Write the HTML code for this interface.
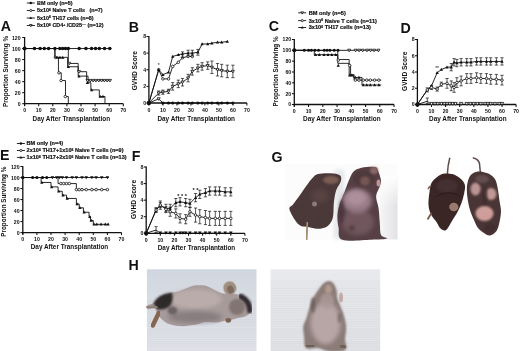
<!DOCTYPE html><html><head><meta charset="utf-8"><style>html,body{margin:0;padding:0;background:#fff;width:520px;height:351px;overflow:hidden}svg{display:block;filter:blur(0.35px)}</style></head><body>
<svg width="520" height="351" viewBox="0 0 520 351" font-family="'Liberation Sans', sans-serif" fill="#111">
<defs><filter id="b1" x="-20%" y="-20%" width="140%" height="140%"><feGaussianBlur stdDeviation="1.2"/></filter><filter id="b2" x="-20%" y="-20%" width="140%" height="140%"><feGaussianBlur stdDeviation="2.2"/></filter><filter id="b05" x="-20%" y="-20%" width="140%" height="140%"><feGaussianBlur stdDeviation="0.6"/></filter></defs>
<rect width="520" height="351" fill="#fff"/>
<text x="0.8" y="30.8" font-size="14.2" font-weight="bold">A</text>
<text x="128.8" y="31.6" font-size="14.2" font-weight="bold">B</text>
<text x="268.8" y="31.2" font-size="14.2" font-weight="bold">C</text>
<text x="400.5" y="32.9" font-size="14.2" font-weight="bold">D</text>
<text x="0.1" y="160.4" font-size="14.2" font-weight="bold">E</text>
<text x="131.8" y="160.9" font-size="14.2" font-weight="bold">F</text>
<text x="271.6" y="161.6" font-size="14.2" font-weight="bold">G</text>
<text x="128.6" y="270.4" font-size="14.2" font-weight="bold">H</text>
<line x1="24.6" y1="37" x2="24.6" y2="105.7" stroke="#111" stroke-width="1.3"/>
<line x1="24.1" y1="103.7" x2="123.3" y2="103.7" stroke="#111" stroke-width="1.3"/>
<line x1="22.2" y1="103.7" x2="24.6" y2="103.7" stroke="#111" stroke-width="1.05"/>
<text x="20.6" y="106.3" font-size="5.2" font-weight="bold" text-anchor="end">0</text>
<line x1="22.2" y1="92.67" x2="24.6" y2="92.67" stroke="#111" stroke-width="1.05"/>
<text x="20.6" y="95.27" font-size="5.2" font-weight="bold" text-anchor="end">20</text>
<line x1="22.2" y1="81.63" x2="24.6" y2="81.63" stroke="#111" stroke-width="1.05"/>
<text x="20.6" y="84.23" font-size="5.2" font-weight="bold" text-anchor="end">40</text>
<line x1="22.2" y1="70.6" x2="24.6" y2="70.6" stroke="#111" stroke-width="1.05"/>
<text x="20.6" y="73.2" font-size="5.2" font-weight="bold" text-anchor="end">60</text>
<line x1="22.2" y1="59.57" x2="24.6" y2="59.57" stroke="#111" stroke-width="1.05"/>
<text x="20.6" y="62.17" font-size="5.2" font-weight="bold" text-anchor="end">80</text>
<line x1="22.2" y1="48.53" x2="24.6" y2="48.53" stroke="#111" stroke-width="1.05"/>
<text x="20.6" y="51.13" font-size="5.2" font-weight="bold" text-anchor="end">100</text>
<line x1="22.2" y1="37.5" x2="24.6" y2="37.5" stroke="#111" stroke-width="1.05"/>
<text x="20.6" y="40.1" font-size="5.2" font-weight="bold" text-anchor="end">120</text>
<line x1="24.6" y1="103.7" x2="24.6" y2="106.2" stroke="#111" stroke-width="1.05"/>
<text x="24.6" y="112.3" font-size="5.2" font-weight="bold" text-anchor="middle">0</text>
<line x1="38.7" y1="103.7" x2="38.7" y2="106.2" stroke="#111" stroke-width="1.05"/>
<text x="38.7" y="112.3" font-size="5.2" font-weight="bold" text-anchor="middle">10</text>
<line x1="52.8" y1="103.7" x2="52.8" y2="106.2" stroke="#111" stroke-width="1.05"/>
<text x="52.8" y="112.3" font-size="5.2" font-weight="bold" text-anchor="middle">20</text>
<line x1="66.9" y1="103.7" x2="66.9" y2="106.2" stroke="#111" stroke-width="1.05"/>
<text x="66.9" y="112.3" font-size="5.2" font-weight="bold" text-anchor="middle">30</text>
<line x1="81" y1="103.7" x2="81" y2="106.2" stroke="#111" stroke-width="1.05"/>
<text x="81" y="112.3" font-size="5.2" font-weight="bold" text-anchor="middle">40</text>
<line x1="95.1" y1="103.7" x2="95.1" y2="106.2" stroke="#111" stroke-width="1.05"/>
<text x="95.1" y="112.3" font-size="5.2" font-weight="bold" text-anchor="middle">50</text>
<line x1="109.2" y1="103.7" x2="109.2" y2="106.2" stroke="#111" stroke-width="1.05"/>
<text x="109.2" y="112.3" font-size="5.2" font-weight="bold" text-anchor="middle">60</text>
<line x1="123.3" y1="103.7" x2="123.3" y2="106.2" stroke="#111" stroke-width="1.05"/>
<text x="123.3" y="112.3" font-size="5.2" font-weight="bold" text-anchor="middle">70</text>
<text x="71.3" y="120.9" font-size="6.4" font-weight="bold" text-anchor="middle">Day After Transplantation</text>
<text transform="translate(7.9,71.4) rotate(-90)" font-size="6.4" font-weight="bold" text-anchor="middle">Proportion Surviving %</text>
<line x1="26.8" y1="3" x2="34.8" y2="3" stroke="#111" stroke-width="0.9"/>
<circle cx="30.8" cy="3" r="1.3" fill="#111"/>
<text x="37" y="4.9" font-size="5.4" font-weight="bold" stroke="#111" stroke-width="0.18">BM only (n=5)</text>
<line x1="26.8" y1="10.5" x2="34.8" y2="10.5" stroke="#111" stroke-width="0.9"/>
<circle cx="30.8" cy="10.5" r="1.1" fill="#fff" stroke="#111" stroke-width="0.8"/>
<text x="37" y="12.4" font-size="5.4" font-weight="bold" stroke="#111" stroke-width="0.18">5x10<tspan font-size="3.4" dy="-1.8">6</tspan><tspan dy="1.8"> </tspan>Naive T cells&#160;&#160;&#160;(n=7)</text>
<line x1="26.8" y1="18" x2="34.8" y2="18" stroke="#111" stroke-width="0.9"/>
<path d="M30.8 16.5L32.23 19.11L29.37 19.11Z" fill="#111"/>
<text x="37" y="19.9" font-size="5.4" font-weight="bold" stroke="#111" stroke-width="0.18">5x10<tspan font-size="3.4" dy="-1.8">6</tspan><tspan dy="1.8"> </tspan>TH17 cells (n=8)</text>
<line x1="26.8" y1="25.5" x2="34.8" y2="25.5" stroke="#111" stroke-width="0.9"/>
<path d="M30.8 26.8L32.1 24.52L29.5 24.52Z" fill="#fff" stroke="#111" stroke-width="0.8"/>
<text x="37" y="27.4" font-size="5.4" font-weight="bold" stroke="#111" stroke-width="0.18">5x10<tspan font-size="3.4" dy="-1.8">6</tspan><tspan dy="1.8"> </tspan>CD4<tspan font-size="3.4" dy="-1.8">+</tspan><tspan dy="1.8"> </tspan>/CD25<tspan font-size="3.4" dy="-1.8">&#8722;&#8722;</tspan><tspan dy="1.8"> </tspan> (n=12)</text>
<path d="M24.6 48.53 L111.31 48.53" fill="none" stroke="#111" stroke-width="0.9"/>
<circle cx="24.6" cy="48.53" r="2" fill="#111"/>
<circle cx="34.47" cy="48.53" r="1.8" fill="#111"/>
<circle cx="40.11" cy="48.53" r="1.8" fill="#111"/>
<circle cx="44.34" cy="48.53" r="1.8" fill="#111"/>
<circle cx="48.57" cy="48.53" r="1.8" fill="#111"/>
<circle cx="54.91" cy="48.53" r="1.8" fill="#111"/>
<circle cx="59.85" cy="48.53" r="1.8" fill="#111"/>
<circle cx="62.67" cy="48.53" r="1.8" fill="#111"/>
<circle cx="65.49" cy="48.53" r="1.8" fill="#111"/>
<circle cx="68.31" cy="48.53" r="1.8" fill="#111"/>
<circle cx="79.17" cy="48.53" r="1.8" fill="#111"/>
<circle cx="85.94" cy="48.53" r="1.8" fill="#111"/>
<circle cx="91.57" cy="48.53" r="1.8" fill="#111"/>
<circle cx="95.52" cy="48.53" r="1.8" fill="#111"/>
<circle cx="99.33" cy="48.53" r="1.8" fill="#111"/>
<circle cx="104.55" cy="48.53" r="1.8" fill="#111"/>
<circle cx="109.76" cy="48.53" r="1.8" fill="#111"/>
<path d="M24.6 48.53 L54.91 48.53 L54.91 57.36 L58.44 57.36 L58.44 72.81 L61.26 72.81 L61.26 80.53 L65.49 80.53 L65.49 96.53 L68.31 96.53 L68.31 103.7" fill="none" stroke="#111" stroke-width="0.9"/>
<circle cx="55.41" cy="57.36" r="1.27" fill="#fff" stroke="#111" stroke-width="0.8"/>
<circle cx="58.94" cy="72.81" r="1.27" fill="#fff" stroke="#111" stroke-width="0.8"/>
<circle cx="61.05" cy="80.53" r="1.27" fill="#fff" stroke="#111" stroke-width="0.8"/>
<circle cx="65.28" cy="96.53" r="1.27" fill="#fff" stroke="#111" stroke-width="0.8"/>
<path d="M24.6 48.53 L54.91 48.53 L54.91 57.36 L67.6 57.36 L67.6 66.74 L78.18 66.74 L78.18 76.12 L88.05 76.12 L88.05 82.74 L90.87 82.74 L90.87 89.91 L99.33 89.91 L99.33 96.53 L104.97 96.53 L104.97 103.7" fill="none" stroke="#111" stroke-width="0.9"/>
<path d="M57.12 55.63L58.77 58.63L55.48 58.63Z" fill="#111"/>
<path d="M59.94 55.63L61.59 58.63L58.29 58.63Z" fill="#111"/>
<path d="M62.76 55.63L64.41 58.63L61.11 58.63Z" fill="#111"/>
<path d="M68.4 65.01L70.05 68.01L66.75 68.01Z" fill="#111"/>
<path d="M78.98 74.39L80.63 77.39L77.33 77.39Z" fill="#111"/>
<path d="M87.44 81.01L89.09 84.01L85.79 84.01Z" fill="#111"/>
<path d="M91.67 88.18L93.32 91.18L90.02 91.18Z" fill="#111"/>
<path d="M100.13 94.8L101.78 97.8L98.48 97.8Z" fill="#111"/>
<path d="M102.95 94.8L104.6 97.8L101.3 97.8Z" fill="#111"/>
<path d="M24.6 48.53 L68.31 48.53 L68.31 63.43 L78.18 63.43 L78.18 71.7 L86.64 71.7 L86.64 80.53 L110.61 80.53 L110.61 80.53" fill="none" stroke="#111" stroke-width="0.9"/>
<path d="M69.11 64.93L70.61 62.3L67.61 62.3Z" fill="#fff" stroke="#111" stroke-width="0.8"/>
<path d="M78.98 73.2L80.48 70.58L77.48 70.58Z" fill="#fff" stroke="#111" stroke-width="0.8"/>
<path d="M87.44 82.03L88.94 79.41L85.94 79.41Z" fill="#fff" stroke="#111" stroke-width="0.8"/>
<path d="M90.26 82.03L91.76 79.41L88.76 79.41Z" fill="#fff" stroke="#111" stroke-width="0.8"/>
<path d="M93.08 82.03L94.58 79.41L91.58 79.41Z" fill="#fff" stroke="#111" stroke-width="0.8"/>
<path d="M95.9 82.03L97.4 79.41L94.4 79.41Z" fill="#fff" stroke="#111" stroke-width="0.8"/>
<path d="M98.72 82.03L100.22 79.41L97.22 79.41Z" fill="#fff" stroke="#111" stroke-width="0.8"/>
<path d="M101.54 82.03L103.04 79.41L100.04 79.41Z" fill="#fff" stroke="#111" stroke-width="0.8"/>
<path d="M104.36 82.03L105.86 79.41L102.86 79.41Z" fill="#fff" stroke="#111" stroke-width="0.8"/>
<path d="M107.18 82.03L108.68 79.41L105.68 79.41Z" fill="#fff" stroke="#111" stroke-width="0.8"/>
<path d="M110 82.03L111.5 79.41L108.5 79.41Z" fill="#fff" stroke="#111" stroke-width="0.8"/>
<line x1="148.9" y1="36" x2="148.9" y2="105" stroke="#111" stroke-width="1.3"/>
<line x1="148.4" y1="103" x2="246.9" y2="103" stroke="#111" stroke-width="1.3"/>
<line x1="146.5" y1="103" x2="148.9" y2="103" stroke="#111" stroke-width="1.05"/>
<text x="146.2" y="104.8" font-size="5.2" font-weight="bold" text-anchor="end">0</text>
<line x1="146.5" y1="86.38" x2="148.9" y2="86.38" stroke="#111" stroke-width="1.05"/>
<text x="146.2" y="88.17" font-size="5.2" font-weight="bold" text-anchor="end">2</text>
<line x1="146.5" y1="69.75" x2="148.9" y2="69.75" stroke="#111" stroke-width="1.05"/>
<text x="146.2" y="71.55" font-size="5.2" font-weight="bold" text-anchor="end">4</text>
<line x1="146.5" y1="53.12" x2="148.9" y2="53.12" stroke="#111" stroke-width="1.05"/>
<text x="146.2" y="54.92" font-size="5.2" font-weight="bold" text-anchor="end">6</text>
<line x1="146.5" y1="36.5" x2="148.9" y2="36.5" stroke="#111" stroke-width="1.05"/>
<text x="146.2" y="38.3" font-size="5.2" font-weight="bold" text-anchor="end">8</text>
<line x1="148.9" y1="103" x2="148.9" y2="105.5" stroke="#111" stroke-width="1.05"/>
<text x="148.9" y="111.6" font-size="5.2" font-weight="bold" text-anchor="middle">0</text>
<line x1="162.9" y1="103" x2="162.9" y2="105.5" stroke="#111" stroke-width="1.05"/>
<text x="162.9" y="111.6" font-size="5.2" font-weight="bold" text-anchor="middle">10</text>
<line x1="176.9" y1="103" x2="176.9" y2="105.5" stroke="#111" stroke-width="1.05"/>
<text x="176.9" y="111.6" font-size="5.2" font-weight="bold" text-anchor="middle">20</text>
<line x1="190.9" y1="103" x2="190.9" y2="105.5" stroke="#111" stroke-width="1.05"/>
<text x="190.9" y="111.6" font-size="5.2" font-weight="bold" text-anchor="middle">30</text>
<line x1="204.9" y1="103" x2="204.9" y2="105.5" stroke="#111" stroke-width="1.05"/>
<text x="204.9" y="111.6" font-size="5.2" font-weight="bold" text-anchor="middle">40</text>
<line x1="218.9" y1="103" x2="218.9" y2="105.5" stroke="#111" stroke-width="1.05"/>
<text x="218.9" y="111.6" font-size="5.2" font-weight="bold" text-anchor="middle">50</text>
<line x1="232.9" y1="103" x2="232.9" y2="105.5" stroke="#111" stroke-width="1.05"/>
<text x="232.9" y="111.6" font-size="5.2" font-weight="bold" text-anchor="middle">60</text>
<line x1="246.9" y1="103" x2="246.9" y2="105.5" stroke="#111" stroke-width="1.05"/>
<text x="246.9" y="111.6" font-size="5.2" font-weight="bold" text-anchor="middle">70</text>
<text x="196.2" y="121" font-size="6.4" font-weight="bold" text-anchor="middle">Day After Transplantation</text>
<text transform="translate(137,70.7) rotate(-90)" font-size="6.6" font-weight="bold" text-anchor="middle">GVHD Score</text>
<path d="M148.9 103 L158.7 98.84 L162.9 103 L232.9 103" fill="none" stroke="#111" stroke-width="0.9"/>
<circle cx="162.9" cy="103" r="1.6" fill="#111"/>
<circle cx="168.5" cy="103" r="1.6" fill="#111"/>
<circle cx="172.7" cy="103" r="1.6" fill="#111"/>
<circle cx="178.3" cy="103" r="1.6" fill="#111"/>
<circle cx="182.5" cy="103" r="1.6" fill="#111"/>
<circle cx="188.1" cy="103" r="1.6" fill="#111"/>
<circle cx="192.3" cy="103" r="1.6" fill="#111"/>
<circle cx="197.9" cy="103" r="1.6" fill="#111"/>
<circle cx="202.1" cy="103" r="1.6" fill="#111"/>
<circle cx="207.7" cy="103" r="1.6" fill="#111"/>
<circle cx="211.9" cy="103" r="1.6" fill="#111"/>
<circle cx="217.5" cy="103" r="1.6" fill="#111"/>
<circle cx="221.7" cy="103" r="1.6" fill="#111"/>
<circle cx="227.3" cy="103" r="1.6" fill="#111"/>
<circle cx="232.9" cy="103" r="1.6" fill="#111"/>
<circle cx="148.9" cy="103" r="2.2" fill="#111"/>
<path d="M158.7 100.34L160.2 97.72L157.2 97.72Z" fill="#fff" stroke="#111" stroke-width="0.8"/>
<path d="M148.9 103 L158.7 69.75 L162.9 78.89 L168.5 78.89 L172.7 66.42 L178.3 62.27 L182.5 57.7 L188.1 56.45 L192.3 56.45" fill="none" stroke="#111" stroke-width="0.9"/>
<circle cx="158.7" cy="69.75" r="1.27" fill="#fff" stroke="#111" stroke-width="0.8"/>
<circle cx="162.9" cy="78.89" r="1.27" fill="#fff" stroke="#111" stroke-width="0.8"/>
<circle cx="168.5" cy="78.89" r="1.27" fill="#fff" stroke="#111" stroke-width="0.8"/>
<circle cx="172.7" cy="66.42" r="1.27" fill="#fff" stroke="#111" stroke-width="0.8"/>
<circle cx="178.3" cy="62.27" r="1.27" fill="#fff" stroke="#111" stroke-width="0.8"/>
<circle cx="182.5" cy="57.7" r="1.27" fill="#fff" stroke="#111" stroke-width="0.8"/>
<circle cx="188.1" cy="56.45" r="1.27" fill="#fff" stroke="#111" stroke-width="0.8"/>
<circle cx="192.3" cy="56.45" r="1.27" fill="#fff" stroke="#111" stroke-width="0.8"/>
<path d="M148.9 103 L158.7 69.75 L162.9 74.74 L168.5 72.24 L172.7 56.45 L178.3 54.79 L182.5 53.96 L188.1 53.12 L192.3 53.12 L197.9 52.29 L202.1 43.98 L207.7 43.98 L211.9 43.15 L217.5 42.32 L221.7 42.32 L227.3 41.49" fill="none" stroke="#111" stroke-width="0.9"/>
<path d="M158.7 68.03L160.35 71.03L157.05 71.03Z" fill="#111"/>
<path d="M162.9 73.01L164.55 76.01L161.25 76.01Z" fill="#111"/>
<path d="M168.5 70.52L170.15 73.52L166.85 73.52Z" fill="#111"/>
<path d="M172.7 54.73L174.35 57.73L171.05 57.73Z" fill="#111"/>
<path d="M178.3 53.06L179.95 56.06L176.65 56.06Z" fill="#111"/>
<path d="M182.5 52.23L184.15 55.23L180.85 55.23Z" fill="#111"/>
<path d="M188.1 51.4L189.75 54.4L186.45 54.4Z" fill="#111"/>
<path d="M192.3 51.4L193.95 54.4L190.65 54.4Z" fill="#111"/>
<path d="M197.9 50.57L199.55 53.57L196.25 53.57Z" fill="#111"/>
<path d="M202.1 42.26L203.75 45.26L200.45 45.26Z" fill="#111"/>
<path d="M207.7 42.26L209.35 45.26L206.05 45.26Z" fill="#111"/>
<path d="M211.9 41.42L213.55 44.42L210.25 44.42Z" fill="#111"/>
<path d="M217.5 40.59L219.15 43.59L215.85 43.59Z" fill="#111"/>
<path d="M221.7 40.59L223.35 43.59L220.05 43.59Z" fill="#111"/>
<path d="M227.3 39.76L228.95 42.76L225.65 42.76Z" fill="#111"/>
<path d="M188.1 50.22V56.03M186.5 50.22H189.7M186.5 56.03H189.7" stroke="#111" stroke-width="0.7" fill="none"/>
<path d="M192.3 50.22V56.03M190.7 50.22H193.9M190.7 56.03H193.9" stroke="#111" stroke-width="0.7" fill="none"/>
<path d="M197.9 49.38V55.2M196.3 49.38H199.5M196.3 55.2H199.5" stroke="#111" stroke-width="0.7" fill="none"/>
<path d="M182.5 51.88V57.7M180.9 51.88H184.1M180.9 57.7H184.1" stroke="#111" stroke-width="0.7" fill="none"/>
<path d="M148.9 103 L158.7 93.03 L162.9 92.19 L168.5 91.36 L172.7 86.38 L178.3 83.88 L182.5 82.22 L188.1 78.06 L192.3 71.41 L197.9 68.09 L202.1 66.42 L207.7 65.59 L211.9 67.26 L217.5 69.75 L221.7 70.58 L227.3 71.41 L232.9 71.41" fill="none" stroke="#111" stroke-width="0.9"/>
<path d="M158.7 90.95V95.1M157.1 90.95H160.3M157.1 95.1H160.3" stroke="#111" stroke-width="0.7" fill="none"/>
<path d="M158.7 94.53L160.2 91.9L157.2 91.9Z" fill="#fff" stroke="#111" stroke-width="0.8"/>
<path d="M162.9 90.12V94.27M161.3 90.12H164.5M161.3 94.27H164.5" stroke="#111" stroke-width="0.7" fill="none"/>
<path d="M162.9 93.69L164.4 91.07L161.4 91.07Z" fill="#fff" stroke="#111" stroke-width="0.8"/>
<path d="M168.5 89.28V93.44M166.9 89.28H170.1M166.9 93.44H170.1" stroke="#111" stroke-width="0.7" fill="none"/>
<path d="M168.5 92.86L170 90.24L167 90.24Z" fill="#fff" stroke="#111" stroke-width="0.8"/>
<path d="M172.7 82.63V90.12M171.1 82.63H174.3M171.1 90.12H174.3" stroke="#111" stroke-width="0.7" fill="none"/>
<path d="M172.7 87.88L174.2 85.25L171.2 85.25Z" fill="#fff" stroke="#111" stroke-width="0.8"/>
<path d="M178.3 80.14V87.62M176.7 80.14H179.9M176.7 87.62H179.9" stroke="#111" stroke-width="0.7" fill="none"/>
<path d="M178.3 85.38L179.8 82.76L176.8 82.76Z" fill="#fff" stroke="#111" stroke-width="0.8"/>
<path d="M182.5 78.48V85.96M180.9 78.48H184.1M180.9 85.96H184.1" stroke="#111" stroke-width="0.7" fill="none"/>
<path d="M182.5 83.72L184 81.09L181 81.09Z" fill="#fff" stroke="#111" stroke-width="0.8"/>
<path d="M188.1 74.32V81.8M186.5 74.32H189.7M186.5 81.8H189.7" stroke="#111" stroke-width="0.7" fill="none"/>
<path d="M188.1 79.56L189.6 76.94L186.6 76.94Z" fill="#fff" stroke="#111" stroke-width="0.8"/>
<path d="M192.3 67.67V75.15M190.7 67.67H193.9M190.7 75.15H193.9" stroke="#111" stroke-width="0.7" fill="none"/>
<path d="M192.3 72.91L193.8 70.29L190.8 70.29Z" fill="#fff" stroke="#111" stroke-width="0.8"/>
<path d="M197.9 64.35V71.83M196.3 64.35H199.5M196.3 71.83H199.5" stroke="#111" stroke-width="0.7" fill="none"/>
<path d="M197.9 69.59L199.4 66.96L196.4 66.96Z" fill="#fff" stroke="#111" stroke-width="0.8"/>
<path d="M202.1 62.68V70.17M200.5 62.68H203.7M200.5 70.17H203.7" stroke="#111" stroke-width="0.7" fill="none"/>
<path d="M202.1 67.92L203.6 65.3L200.6 65.3Z" fill="#fff" stroke="#111" stroke-width="0.8"/>
<path d="M207.7 61.85V69.33M206.1 61.85H209.3M206.1 69.33H209.3" stroke="#111" stroke-width="0.7" fill="none"/>
<path d="M207.7 67.09L209.2 64.47L206.2 64.47Z" fill="#fff" stroke="#111" stroke-width="0.8"/>
<path d="M211.9 61.02V73.49M210.3 61.02H213.5M210.3 73.49H213.5" stroke="#111" stroke-width="0.7" fill="none"/>
<path d="M211.9 68.76L213.4 66.13L210.4 66.13Z" fill="#fff" stroke="#111" stroke-width="0.8"/>
<path d="M217.5 63.52V75.98M215.9 63.52H219.1M215.9 75.98H219.1" stroke="#111" stroke-width="0.7" fill="none"/>
<path d="M217.5 71.25L219 68.62L216 68.62Z" fill="#fff" stroke="#111" stroke-width="0.8"/>
<path d="M221.7 64.35V76.82M220.1 64.35H223.3M220.1 76.82H223.3" stroke="#111" stroke-width="0.7" fill="none"/>
<path d="M221.7 72.08L223.2 69.46L220.2 69.46Z" fill="#fff" stroke="#111" stroke-width="0.8"/>
<path d="M227.3 65.18V77.65M225.7 65.18H228.9M225.7 77.65H228.9" stroke="#111" stroke-width="0.7" fill="none"/>
<path d="M227.3 72.91L228.8 70.29L225.8 70.29Z" fill="#fff" stroke="#111" stroke-width="0.8"/>
<path d="M232.9 65.18V77.65M231.3 65.18H234.5M231.3 77.65H234.5" stroke="#111" stroke-width="0.7" fill="none"/>
<path d="M232.9 72.91L234.4 70.29L231.4 70.29Z" fill="#fff" stroke="#111" stroke-width="0.8"/>
<text x="158.7" y="66.75" font-size="5" text-anchor="middle">*</text>
<line x1="294.3" y1="39" x2="294.3" y2="106.5" stroke="#111" stroke-width="1.3"/>
<line x1="293.8" y1="104.5" x2="394.05" y2="104.5" stroke="#111" stroke-width="1.3"/>
<line x1="291.9" y1="104.5" x2="294.3" y2="104.5" stroke="#111" stroke-width="1.05"/>
<text x="291.2" y="106.4" font-size="5.2" font-weight="bold" text-anchor="end">0</text>
<line x1="291.9" y1="93.67" x2="294.3" y2="93.67" stroke="#111" stroke-width="1.05"/>
<text x="291.2" y="95.57" font-size="5.2" font-weight="bold" text-anchor="end">20</text>
<line x1="291.9" y1="82.83" x2="294.3" y2="82.83" stroke="#111" stroke-width="1.05"/>
<text x="291.2" y="84.73" font-size="5.2" font-weight="bold" text-anchor="end">40</text>
<line x1="291.9" y1="72" x2="294.3" y2="72" stroke="#111" stroke-width="1.05"/>
<text x="291.2" y="73.9" font-size="5.2" font-weight="bold" text-anchor="end">60</text>
<line x1="291.9" y1="61.17" x2="294.3" y2="61.17" stroke="#111" stroke-width="1.05"/>
<text x="291.2" y="63.07" font-size="5.2" font-weight="bold" text-anchor="end">80</text>
<line x1="291.9" y1="50.33" x2="294.3" y2="50.33" stroke="#111" stroke-width="1.05"/>
<text x="291.2" y="52.23" font-size="5.2" font-weight="bold" text-anchor="end">100</text>
<line x1="291.9" y1="39.5" x2="294.3" y2="39.5" stroke="#111" stroke-width="1.05"/>
<text x="291.2" y="41.4" font-size="5.2" font-weight="bold" text-anchor="end">120</text>
<line x1="294.3" y1="104.5" x2="294.3" y2="107" stroke="#111" stroke-width="1.05"/>
<text x="294.3" y="113.1" font-size="5.2" font-weight="bold" text-anchor="middle">0</text>
<line x1="308.55" y1="104.5" x2="308.55" y2="107" stroke="#111" stroke-width="1.05"/>
<text x="308.55" y="113.1" font-size="5.2" font-weight="bold" text-anchor="middle">10</text>
<line x1="322.8" y1="104.5" x2="322.8" y2="107" stroke="#111" stroke-width="1.05"/>
<text x="322.8" y="113.1" font-size="5.2" font-weight="bold" text-anchor="middle">20</text>
<line x1="337.05" y1="104.5" x2="337.05" y2="107" stroke="#111" stroke-width="1.05"/>
<text x="337.05" y="113.1" font-size="5.2" font-weight="bold" text-anchor="middle">30</text>
<line x1="351.3" y1="104.5" x2="351.3" y2="107" stroke="#111" stroke-width="1.05"/>
<text x="351.3" y="113.1" font-size="5.2" font-weight="bold" text-anchor="middle">40</text>
<line x1="365.55" y1="104.5" x2="365.55" y2="107" stroke="#111" stroke-width="1.05"/>
<text x="365.55" y="113.1" font-size="5.2" font-weight="bold" text-anchor="middle">50</text>
<line x1="379.8" y1="104.5" x2="379.8" y2="107" stroke="#111" stroke-width="1.05"/>
<text x="379.8" y="113.1" font-size="5.2" font-weight="bold" text-anchor="middle">60</text>
<line x1="394.05" y1="104.5" x2="394.05" y2="107" stroke="#111" stroke-width="1.05"/>
<text x="394.05" y="113.1" font-size="5.2" font-weight="bold" text-anchor="middle">70</text>
<text x="341.8" y="121" font-size="6.4" font-weight="bold" text-anchor="middle">Day After Transplantation</text>
<text transform="translate(278.2,71.5) rotate(-90)" font-size="6.3" font-weight="bold" text-anchor="middle">Proportion Surviving %</text>
<line x1="298.2" y1="12.8" x2="306.2" y2="12.8" stroke="#111" stroke-width="0.9"/>
<path d="M302.2 14.1L303.5 11.83L300.9 11.83Z" fill="#fff" stroke="#111" stroke-width="0.8"/>
<text x="308.7" y="14.7" font-size="5.65" font-weight="bold" stroke="#111" stroke-width="0.18">BM only (n=5)</text>
<line x1="298.2" y1="20.6" x2="306.2" y2="20.6" stroke="#111" stroke-width="0.9"/>
<circle cx="302.2" cy="20.6" r="1.1" fill="#fff" stroke="#111" stroke-width="0.8"/>
<text x="308.7" y="22.5" font-size="5.65" font-weight="bold" stroke="#111" stroke-width="0.18">3x10<tspan font-size="3.4" dy="-1.8">6</tspan><tspan dy="1.8"> </tspan>Naive T cells (n=11)</text>
<line x1="298.2" y1="27.5" x2="306.2" y2="27.5" stroke="#111" stroke-width="0.9"/>
<path d="M302.2 26L303.63 28.61L300.77 28.61Z" fill="#111"/>
<text x="308.7" y="29.4" font-size="5.65" font-weight="bold" stroke="#111" stroke-width="0.18">3x10<tspan font-size="3.4" dy="-1.8">6</tspan><tspan dy="1.8"> </tspan>TH17 cells (n=13)</text>
<path d="M294.3 50.33 L379.8 50.33" fill="none" stroke="#111" stroke-width="0.9"/>
<path d="M349.16 51.83L350.66 49.21L347.66 49.21Z" fill="#fff" stroke="#111" stroke-width="0.8"/>
<path d="M355.57 51.83L357.07 49.21L354.07 49.21Z" fill="#fff" stroke="#111" stroke-width="0.8"/>
<path d="M359.14 51.83L360.64 49.21L357.64 49.21Z" fill="#fff" stroke="#111" stroke-width="0.8"/>
<path d="M362.7 51.83L364.2 49.21L361.2 49.21Z" fill="#fff" stroke="#111" stroke-width="0.8"/>
<path d="M366.98 51.83L368.48 49.21L365.48 49.21Z" fill="#fff" stroke="#111" stroke-width="0.8"/>
<path d="M370.54 51.83L372.04 49.21L369.04 49.21Z" fill="#fff" stroke="#111" stroke-width="0.8"/>
<path d="M374.1 51.83L375.6 49.21L372.6 49.21Z" fill="#fff" stroke="#111" stroke-width="0.8"/>
<path d="M378.38 51.83L379.88 49.21L376.88 49.21Z" fill="#fff" stroke="#111" stroke-width="0.8"/>
<circle cx="294.3" cy="50.33" r="2" fill="#111"/>
<circle cx="304.28" cy="50.33" r="1.5" fill="#111"/>
<circle cx="308.55" cy="50.33" r="1.5" fill="#111"/>
<circle cx="311.4" cy="50.33" r="1.5" fill="#111"/>
<circle cx="314.96" cy="50.33" r="1.5" fill="#111"/>
<circle cx="318.53" cy="50.33" r="1.5" fill="#111"/>
<circle cx="324.23" cy="50.33" r="1.5" fill="#111"/>
<circle cx="327.07" cy="50.33" r="1.5" fill="#111"/>
<circle cx="329.93" cy="50.33" r="1.5" fill="#111"/>
<circle cx="334.2" cy="50.33" r="1.5" fill="#111"/>
<circle cx="338.05" cy="50.33" r="1.5" fill="#111"/>
<path d="M294.3 50.33 L314.25 50.33 L314.25 54.67 L337.76 54.67 L337.76 63.33 L349.16 63.33 L349.16 75.25 L353.44 75.25 L353.44 77.42 L361.99 77.42 L361.99 85 L381.23 85 L381.23 85" fill="none" stroke="#111" stroke-width="0.9"/>
<path d="M315.46 52.94L317.11 55.94L313.81 55.94Z" fill="#111"/>
<path d="M319.31 52.94L320.96 55.94L317.66 55.94Z" fill="#111"/>
<path d="M324.01 52.94L325.66 55.94L322.36 55.94Z" fill="#111"/>
<path d="M328 52.94L329.65 55.94L326.35 55.94Z" fill="#111"/>
<path d="M331.85 52.94L333.5 55.94L330.2 55.94Z" fill="#111"/>
<path d="M335.7 52.94L337.35 55.94L334.05 55.94Z" fill="#111"/>
<path d="M338.26 63.77L339.91 66.78L336.61 66.78Z" fill="#111"/>
<path d="M349.66 73.53L351.31 76.53L348.01 76.53Z" fill="#111"/>
<path d="M351.8 73.53L353.45 76.53L350.15 76.53Z" fill="#111"/>
<path d="M355.36 75.69L357.01 78.69L353.71 78.69Z" fill="#111"/>
<path d="M358.93 75.69L360.57 78.69L357.28 78.69Z" fill="#111"/>
<path d="M363.2 83.28L364.85 86.28L361.55 86.28Z" fill="#111"/>
<path d="M366.76 83.28L368.41 86.28L365.11 86.28Z" fill="#111"/>
<path d="M370.33 83.28L371.98 86.28L368.68 86.28Z" fill="#111"/>
<path d="M374.6 83.28L376.25 86.28L372.95 86.28Z" fill="#111"/>
<path d="M378.88 83.28L380.52 86.28L377.23 86.28Z" fill="#111"/>
<path d="M294.3 50.33 L337.76 50.33 L337.76 59.54 L349.16 59.54 L349.16 64.96 L350.59 64.96 L350.59 74.71 L354.15 74.71 L354.15 80.12 L381.23 80.12 L381.23 80.12" fill="none" stroke="#111" stroke-width="0.9"/>
<circle cx="338.26" cy="60.08" r="1.27" fill="#fff" stroke="#111" stroke-width="0.8"/>
<circle cx="349.66" cy="65.5" r="1.27" fill="#fff" stroke="#111" stroke-width="0.8"/>
<circle cx="355.36" cy="80.12" r="1.27" fill="#fff" stroke="#111" stroke-width="0.8"/>
<circle cx="358.93" cy="80.12" r="1.27" fill="#fff" stroke="#111" stroke-width="0.8"/>
<circle cx="363.2" cy="80.12" r="1.27" fill="#fff" stroke="#111" stroke-width="0.8"/>
<circle cx="366.76" cy="80.12" r="1.27" fill="#fff" stroke="#111" stroke-width="0.8"/>
<circle cx="370.33" cy="80.12" r="1.27" fill="#fff" stroke="#111" stroke-width="0.8"/>
<circle cx="374.6" cy="80.12" r="1.27" fill="#fff" stroke="#111" stroke-width="0.8"/>
<circle cx="378.88" cy="80.12" r="1.27" fill="#fff" stroke="#111" stroke-width="0.8"/>
<line x1="417.4" y1="39" x2="417.4" y2="106.5" stroke="#111" stroke-width="1.3"/>
<line x1="416.9" y1="104.5" x2="516.1" y2="104.5" stroke="#111" stroke-width="1.3"/>
<line x1="415" y1="104.5" x2="417.4" y2="104.5" stroke="#111" stroke-width="1.05"/>
<text x="414.7" y="106.3" font-size="5.2" font-weight="bold" text-anchor="end">0</text>
<line x1="415" y1="88.25" x2="417.4" y2="88.25" stroke="#111" stroke-width="1.05"/>
<text x="414.7" y="90.05" font-size="5.2" font-weight="bold" text-anchor="end">2</text>
<line x1="415" y1="72" x2="417.4" y2="72" stroke="#111" stroke-width="1.05"/>
<text x="414.7" y="73.8" font-size="5.2" font-weight="bold" text-anchor="end">4</text>
<line x1="415" y1="55.75" x2="417.4" y2="55.75" stroke="#111" stroke-width="1.05"/>
<text x="414.7" y="57.55" font-size="5.2" font-weight="bold" text-anchor="end">6</text>
<line x1="415" y1="39.5" x2="417.4" y2="39.5" stroke="#111" stroke-width="1.05"/>
<text x="414.7" y="41.3" font-size="5.2" font-weight="bold" text-anchor="end">8</text>
<line x1="417.4" y1="104.5" x2="417.4" y2="107" stroke="#111" stroke-width="1.05"/>
<text x="417.4" y="113.1" font-size="5.2" font-weight="bold" text-anchor="middle">0</text>
<line x1="431.5" y1="104.5" x2="431.5" y2="107" stroke="#111" stroke-width="1.05"/>
<text x="431.5" y="113.1" font-size="5.2" font-weight="bold" text-anchor="middle">10</text>
<line x1="445.6" y1="104.5" x2="445.6" y2="107" stroke="#111" stroke-width="1.05"/>
<text x="445.6" y="113.1" font-size="5.2" font-weight="bold" text-anchor="middle">20</text>
<line x1="459.7" y1="104.5" x2="459.7" y2="107" stroke="#111" stroke-width="1.05"/>
<text x="459.7" y="113.1" font-size="5.2" font-weight="bold" text-anchor="middle">30</text>
<line x1="473.8" y1="104.5" x2="473.8" y2="107" stroke="#111" stroke-width="1.05"/>
<text x="473.8" y="113.1" font-size="5.2" font-weight="bold" text-anchor="middle">40</text>
<line x1="487.9" y1="104.5" x2="487.9" y2="107" stroke="#111" stroke-width="1.05"/>
<text x="487.9" y="113.1" font-size="5.2" font-weight="bold" text-anchor="middle">50</text>
<line x1="502" y1="104.5" x2="502" y2="107" stroke="#111" stroke-width="1.05"/>
<text x="502" y="113.1" font-size="5.2" font-weight="bold" text-anchor="middle">60</text>
<line x1="516.1" y1="104.5" x2="516.1" y2="107" stroke="#111" stroke-width="1.05"/>
<text x="516.1" y="113.1" font-size="5.2" font-weight="bold" text-anchor="middle">70</text>
<text x="467.8" y="121" font-size="6.4" font-weight="bold" text-anchor="middle">Day After Transplantation</text>
<text transform="translate(407.2,71.3) rotate(-90)" font-size="6.6" font-weight="bold" text-anchor="middle">GVHD Score</text>
<path d="M417.4 104.5 L427.27 101.25 L431.5 104.5 L502 104.5" fill="none" stroke="#111" stroke-width="0.9"/>
<path d="M431.5 105.4L433.2 102.42L429.8 102.42Z" fill="#fff" stroke="#111" stroke-width="0.8"/>
<path d="M435.02 105.4L436.72 102.42L433.32 102.42Z" fill="#fff" stroke="#111" stroke-width="0.8"/>
<path d="M437.84 105.4L439.54 102.42L436.14 102.42Z" fill="#fff" stroke="#111" stroke-width="0.8"/>
<path d="M441.37 105.4L443.07 102.42L439.67 102.42Z" fill="#fff" stroke="#111" stroke-width="0.8"/>
<path d="M444.19 105.4L445.89 102.42L442.49 102.42Z" fill="#fff" stroke="#111" stroke-width="0.8"/>
<path d="M447.01 105.4L448.71 102.42L445.31 102.42Z" fill="#fff" stroke="#111" stroke-width="0.8"/>
<path d="M449.83 105.4L451.53 102.42L448.13 102.42Z" fill="#fff" stroke="#111" stroke-width="0.8"/>
<path d="M452.65 105.4L454.35 102.42L450.95 102.42Z" fill="#fff" stroke="#111" stroke-width="0.8"/>
<path d="M455.47 105.4L457.17 102.42L453.77 102.42Z" fill="#fff" stroke="#111" stroke-width="0.8"/>
<path d="M461.11 105.4L462.81 102.42L459.41 102.42Z" fill="#fff" stroke="#111" stroke-width="0.8"/>
<path d="M466.75 105.4L468.45 102.42L465.05 102.42Z" fill="#fff" stroke="#111" stroke-width="0.8"/>
<path d="M470.27 105.4L471.97 102.42L468.57 102.42Z" fill="#fff" stroke="#111" stroke-width="0.8"/>
<path d="M473.8 105.4L475.5 102.42L472.1 102.42Z" fill="#fff" stroke="#111" stroke-width="0.8"/>
<path d="M477.32 105.4L479.02 102.42L475.62 102.42Z" fill="#fff" stroke="#111" stroke-width="0.8"/>
<path d="M480.85 105.4L482.55 102.42L479.15 102.42Z" fill="#fff" stroke="#111" stroke-width="0.8"/>
<path d="M485.08 105.4L486.78 102.42L483.38 102.42Z" fill="#fff" stroke="#111" stroke-width="0.8"/>
<path d="M487.9 105.4L489.6 102.42L486.2 102.42Z" fill="#fff" stroke="#111" stroke-width="0.8"/>
<path d="M490.72 105.4L492.42 102.42L489.02 102.42Z" fill="#fff" stroke="#111" stroke-width="0.8"/>
<path d="M494.95 105.4L496.65 102.42L493.25 102.42Z" fill="#fff" stroke="#111" stroke-width="0.8"/>
<path d="M499.18 105.4L500.88 102.42L497.48 102.42Z" fill="#fff" stroke="#111" stroke-width="0.8"/>
<path d="M502 105.4L503.7 102.42L500.3 102.42Z" fill="#fff" stroke="#111" stroke-width="0.8"/>
<circle cx="417.4" cy="104.5" r="2.2" fill="#111"/>
<path d="M427.27 98V103.69M425.67 98H428.87M425.67 103.69H428.87" stroke="#111" stroke-width="0.7" fill="none"/>
<path d="M417.4 104.5 L427.27 89.88 L431.5 85.81 L437.14 72.81 L441.37 69.56 L447.01 67.12 L451.24 67.12 L454.06 62.25 L456.88 63.06 L461.11 62.25 L466.75 62.25 L470.98 62.25 L476.62 61.44 L480.85 61.44 L486.49 61.44 L490.72 61.44 L496.36 61.44 L502 61.44" fill="none" stroke="#111" stroke-width="0.9"/>
<path d="M427.27 88.15L428.92 91.15L425.62 91.15Z" fill="#111"/>
<path d="M431.5 84.09L433.15 87.09L429.85 87.09Z" fill="#111"/>
<path d="M437.14 71.09L438.79 74.09L435.49 74.09Z" fill="#111"/>
<path d="M441.37 67.84L443.02 70.84L439.72 70.84Z" fill="#111"/>
<path d="M447.01 65.4L448.66 68.4L445.36 68.4Z" fill="#111"/>
<path d="M451.24 63.47V70.78M449.64 63.47H452.84M449.64 70.78H452.84" stroke="#111" stroke-width="0.7" fill="none"/>
<path d="M451.24 65.4L452.89 68.4L449.59 68.4Z" fill="#111"/>
<path d="M454.06 58.59V65.91M452.46 58.59H455.66M452.46 65.91H455.66" stroke="#111" stroke-width="0.7" fill="none"/>
<path d="M454.06 60.52L455.71 63.52L452.41 63.52Z" fill="#111"/>
<path d="M456.88 59.41V66.72M455.28 59.41H458.48M455.28 66.72H458.48" stroke="#111" stroke-width="0.7" fill="none"/>
<path d="M456.88 61.34L458.53 64.34L455.23 64.34Z" fill="#111"/>
<path d="M461.11 58.59V65.91M459.51 58.59H462.71M459.51 65.91H462.71" stroke="#111" stroke-width="0.7" fill="none"/>
<path d="M461.11 60.52L462.76 63.52L459.46 63.52Z" fill="#111"/>
<path d="M466.75 58.59V65.91M465.15 58.59H468.35M465.15 65.91H468.35" stroke="#111" stroke-width="0.7" fill="none"/>
<path d="M466.75 60.52L468.4 63.52L465.1 63.52Z" fill="#111"/>
<path d="M470.98 58.59V65.91M469.38 58.59H472.58M469.38 65.91H472.58" stroke="#111" stroke-width="0.7" fill="none"/>
<path d="M470.98 60.52L472.63 63.52L469.33 63.52Z" fill="#111"/>
<path d="M476.62 57.78V65.09M475.02 57.78H478.22M475.02 65.09H478.22" stroke="#111" stroke-width="0.7" fill="none"/>
<path d="M476.62 59.71L478.27 62.71L474.97 62.71Z" fill="#111"/>
<path d="M480.85 57.78V65.09M479.25 57.78H482.45M479.25 65.09H482.45" stroke="#111" stroke-width="0.7" fill="none"/>
<path d="M480.85 59.71L482.5 62.71L479.2 62.71Z" fill="#111"/>
<path d="M486.49 57.78V65.09M484.89 57.78H488.09M484.89 65.09H488.09" stroke="#111" stroke-width="0.7" fill="none"/>
<path d="M486.49 59.71L488.14 62.71L484.84 62.71Z" fill="#111"/>
<path d="M490.72 57.78V65.09M489.12 57.78H492.32M489.12 65.09H492.32" stroke="#111" stroke-width="0.7" fill="none"/>
<path d="M490.72 59.71L492.37 62.71L489.07 62.71Z" fill="#111"/>
<path d="M496.36 57.78V65.09M494.76 57.78H497.96M494.76 65.09H497.96" stroke="#111" stroke-width="0.7" fill="none"/>
<path d="M496.36 59.71L498.01 62.71L494.71 62.71Z" fill="#111"/>
<path d="M502 57.78V65.09M500.4 57.78H503.6M500.4 65.09H503.6" stroke="#111" stroke-width="0.7" fill="none"/>
<path d="M502 59.71L503.65 62.71L500.35 62.71Z" fill="#111"/>
<path d="M417.4 104.5 L427.27 89.88 L431.5 87.44 L437.14 89.06 L441.37 84.19 L447.01 83.38 L451.24 85.81 L454.06 87.44 L456.88 82.56 L461.11 80.94 L466.75 78.5 L470.98 78.5 L476.62 77.69 L480.85 78.5 L486.49 78.5 L490.72 79.31 L496.36 79.31 L502 80.12" fill="none" stroke="#111" stroke-width="0.9"/>
<path d="M427.27 87.84V91.91M425.67 87.84H428.87M425.67 91.91H428.87" stroke="#111" stroke-width="0.7" fill="none"/>
<circle cx="427.27" cy="89.88" r="1.27" fill="#fff" stroke="#111" stroke-width="0.8"/>
<path d="M431.5 85.41V89.47M429.9 85.41H433.1M429.9 89.47H433.1" stroke="#111" stroke-width="0.7" fill="none"/>
<circle cx="431.5" cy="87.44" r="1.27" fill="#fff" stroke="#111" stroke-width="0.8"/>
<path d="M437.14 87.03V91.09M435.54 87.03H438.74M435.54 91.09H438.74" stroke="#111" stroke-width="0.7" fill="none"/>
<circle cx="437.14" cy="89.06" r="1.27" fill="#fff" stroke="#111" stroke-width="0.8"/>
<path d="M441.37 82.16V86.22M439.77 82.16H442.97M439.77 86.22H442.97" stroke="#111" stroke-width="0.7" fill="none"/>
<circle cx="441.37" cy="84.19" r="1.27" fill="#fff" stroke="#111" stroke-width="0.8"/>
<path d="M447.01 78.5V88.25M445.41 78.5H448.61M445.41 88.25H448.61" stroke="#111" stroke-width="0.7" fill="none"/>
<circle cx="447.01" cy="83.38" r="1.27" fill="#fff" stroke="#111" stroke-width="0.8"/>
<path d="M451.24 80.94V90.69M449.64 80.94H452.84M449.64 90.69H452.84" stroke="#111" stroke-width="0.7" fill="none"/>
<circle cx="451.24" cy="85.81" r="1.27" fill="#fff" stroke="#111" stroke-width="0.8"/>
<path d="M454.06 82.56V92.31M452.46 82.56H455.66M452.46 92.31H455.66" stroke="#111" stroke-width="0.7" fill="none"/>
<circle cx="454.06" cy="87.44" r="1.27" fill="#fff" stroke="#111" stroke-width="0.8"/>
<path d="M456.88 77.69V87.44M455.28 77.69H458.48M455.28 87.44H458.48" stroke="#111" stroke-width="0.7" fill="none"/>
<circle cx="456.88" cy="82.56" r="1.27" fill="#fff" stroke="#111" stroke-width="0.8"/>
<path d="M461.11 76.06V85.81M459.51 76.06H462.71M459.51 85.81H462.71" stroke="#111" stroke-width="0.7" fill="none"/>
<circle cx="461.11" cy="80.94" r="1.27" fill="#fff" stroke="#111" stroke-width="0.8"/>
<path d="M466.75 73.62V83.38M465.15 73.62H468.35M465.15 83.38H468.35" stroke="#111" stroke-width="0.7" fill="none"/>
<circle cx="466.75" cy="78.5" r="1.27" fill="#fff" stroke="#111" stroke-width="0.8"/>
<path d="M470.98 73.62V83.38M469.38 73.62H472.58M469.38 83.38H472.58" stroke="#111" stroke-width="0.7" fill="none"/>
<circle cx="470.98" cy="78.5" r="1.27" fill="#fff" stroke="#111" stroke-width="0.8"/>
<path d="M476.62 72.81V82.56M475.02 72.81H478.22M475.02 82.56H478.22" stroke="#111" stroke-width="0.7" fill="none"/>
<circle cx="476.62" cy="77.69" r="1.27" fill="#fff" stroke="#111" stroke-width="0.8"/>
<path d="M480.85 73.62V83.38M479.25 73.62H482.45M479.25 83.38H482.45" stroke="#111" stroke-width="0.7" fill="none"/>
<circle cx="480.85" cy="78.5" r="1.27" fill="#fff" stroke="#111" stroke-width="0.8"/>
<path d="M486.49 73.62V83.38M484.89 73.62H488.09M484.89 83.38H488.09" stroke="#111" stroke-width="0.7" fill="none"/>
<circle cx="486.49" cy="78.5" r="1.27" fill="#fff" stroke="#111" stroke-width="0.8"/>
<path d="M490.72 74.44V84.19M489.12 74.44H492.32M489.12 84.19H492.32" stroke="#111" stroke-width="0.7" fill="none"/>
<circle cx="490.72" cy="79.31" r="1.27" fill="#fff" stroke="#111" stroke-width="0.8"/>
<path d="M496.36 74.44V84.19M494.76 74.44H497.96M494.76 84.19H497.96" stroke="#111" stroke-width="0.7" fill="none"/>
<circle cx="496.36" cy="79.31" r="1.27" fill="#fff" stroke="#111" stroke-width="0.8"/>
<path d="M502 75.25V85M500.4 75.25H503.6M500.4 85H503.6" stroke="#111" stroke-width="0.7" fill="none"/>
<circle cx="502" cy="80.12" r="1.27" fill="#fff" stroke="#111" stroke-width="0.8"/>
<text x="437.14" y="70.31" font-size="5" text-anchor="middle">**</text>
<line x1="22.8" y1="166" x2="22.8" y2="234.6" stroke="#111" stroke-width="1.3"/>
<line x1="22.3" y1="232.6" x2="121.5" y2="232.6" stroke="#111" stroke-width="1.3"/>
<line x1="20.4" y1="232.6" x2="22.8" y2="232.6" stroke="#111" stroke-width="1.05"/>
<text x="19.6" y="234.8" font-size="5.2" font-weight="bold" text-anchor="end">0</text>
<line x1="20.4" y1="221.58" x2="22.8" y2="221.58" stroke="#111" stroke-width="1.05"/>
<text x="19.6" y="223.78" font-size="5.2" font-weight="bold" text-anchor="end">20</text>
<line x1="20.4" y1="210.57" x2="22.8" y2="210.57" stroke="#111" stroke-width="1.05"/>
<text x="19.6" y="212.77" font-size="5.2" font-weight="bold" text-anchor="end">40</text>
<line x1="20.4" y1="199.55" x2="22.8" y2="199.55" stroke="#111" stroke-width="1.05"/>
<text x="19.6" y="201.75" font-size="5.2" font-weight="bold" text-anchor="end">60</text>
<line x1="20.4" y1="188.53" x2="22.8" y2="188.53" stroke="#111" stroke-width="1.05"/>
<text x="19.6" y="190.73" font-size="5.2" font-weight="bold" text-anchor="end">80</text>
<line x1="20.4" y1="177.52" x2="22.8" y2="177.52" stroke="#111" stroke-width="1.05"/>
<text x="19.6" y="179.72" font-size="5.2" font-weight="bold" text-anchor="end">100</text>
<line x1="20.4" y1="166.5" x2="22.8" y2="166.5" stroke="#111" stroke-width="1.05"/>
<text x="19.6" y="168.7" font-size="5.2" font-weight="bold" text-anchor="end">120</text>
<line x1="22.8" y1="232.6" x2="22.8" y2="235.1" stroke="#111" stroke-width="1.05"/>
<text x="22.8" y="241.2" font-size="5.2" font-weight="bold" text-anchor="middle">0</text>
<line x1="36.9" y1="232.6" x2="36.9" y2="235.1" stroke="#111" stroke-width="1.05"/>
<text x="36.9" y="241.2" font-size="5.2" font-weight="bold" text-anchor="middle">10</text>
<line x1="51" y1="232.6" x2="51" y2="235.1" stroke="#111" stroke-width="1.05"/>
<text x="51" y="241.2" font-size="5.2" font-weight="bold" text-anchor="middle">20</text>
<line x1="65.1" y1="232.6" x2="65.1" y2="235.1" stroke="#111" stroke-width="1.05"/>
<text x="65.1" y="241.2" font-size="5.2" font-weight="bold" text-anchor="middle">30</text>
<line x1="79.2" y1="232.6" x2="79.2" y2="235.1" stroke="#111" stroke-width="1.05"/>
<text x="79.2" y="241.2" font-size="5.2" font-weight="bold" text-anchor="middle">40</text>
<line x1="93.3" y1="232.6" x2="93.3" y2="235.1" stroke="#111" stroke-width="1.05"/>
<text x="93.3" y="241.2" font-size="5.2" font-weight="bold" text-anchor="middle">50</text>
<line x1="107.4" y1="232.6" x2="107.4" y2="235.1" stroke="#111" stroke-width="1.05"/>
<text x="107.4" y="241.2" font-size="5.2" font-weight="bold" text-anchor="middle">60</text>
<line x1="121.5" y1="232.6" x2="121.5" y2="235.1" stroke="#111" stroke-width="1.05"/>
<text x="121.5" y="241.2" font-size="5.2" font-weight="bold" text-anchor="middle">70</text>
<text x="69.5" y="249.1" font-size="6.4" font-weight="bold" text-anchor="middle">Day After Transplantation</text>
<text transform="translate(6.3,201.7) rotate(-90)" font-size="6.3" font-weight="bold" text-anchor="middle">Proportion Surviving %</text>
<line x1="16.9" y1="143.5" x2="24.9" y2="143.5" stroke="#111" stroke-width="0.9"/>
<circle cx="20.9" cy="143.5" r="1.3" fill="#111"/>
<text x="26.6" y="145.4" font-size="5.55" font-weight="bold" stroke="#111" stroke-width="0.18">BM only (n=4)</text>
<line x1="16.9" y1="150.5" x2="24.9" y2="150.5" stroke="#111" stroke-width="0.9"/>
<circle cx="20.9" cy="150.5" r="1.1" fill="#fff" stroke="#111" stroke-width="0.8"/>
<text x="26.6" y="152.4" font-size="5.55" font-weight="bold" stroke="#111" stroke-width="0.18">2x10<tspan font-size="3.4" dy="-1.8">6</tspan><tspan dy="1.8"> </tspan>TH17+1x10<tspan font-size="3.4" dy="-1.8">6</tspan><tspan dy="1.8"> </tspan>Naive T cells (n=9)</text>
<line x1="16.9" y1="157.4" x2="24.9" y2="157.4" stroke="#111" stroke-width="0.9"/>
<path d="M20.9 155.91L22.33 158.5L19.47 158.5Z" fill="#111"/>
<text x="26.6" y="159.3" font-size="5.55" font-weight="bold" stroke="#111" stroke-width="0.18">1x10<tspan font-size="3.4" dy="-1.8">6</tspan><tspan dy="1.8"> </tspan>TH17+2x10<tspan font-size="3.4" dy="-1.8">6</tspan><tspan dy="1.8"> </tspan>Naive T cells (n=13)</text>
<path d="M22.8 177.52 L108.81 177.52" fill="none" stroke="#111" stroke-width="0.9"/>
<circle cx="22.8" cy="177.52" r="1.6" fill="#111"/>
<circle cx="32.67" cy="177.52" r="1.6" fill="#111"/>
<circle cx="36.9" cy="177.52" r="1.6" fill="#111"/>
<circle cx="42.54" cy="177.52" r="1.6" fill="#111"/>
<circle cx="46.77" cy="177.52" r="1.6" fill="#111"/>
<path d="M52.41 179.36L54.17 176.16L50.65 176.16Z" fill="#111"/>
<path d="M56.64 179.36L58.4 176.16L54.88 176.16Z" fill="#111"/>
<path d="M59.46 179.36L61.22 176.16L57.7 176.16Z" fill="#111"/>
<path d="M62.28 179.36L64.04 176.16L60.52 176.16Z" fill="#111"/>
<path d="M66.51 179.36L68.27 176.16L64.75 176.16Z" fill="#111"/>
<path d="M72.15 179.36L73.91 176.16L70.39 176.16Z" fill="#111"/>
<path d="M76.38 179.36L78.14 176.16L74.62 176.16Z" fill="#111"/>
<path d="M82.02 179.36L83.78 176.16L80.26 176.16Z" fill="#111"/>
<path d="M86.25 179.36L88.01 176.16L84.49 176.16Z" fill="#111"/>
<path d="M91.89 179.36L93.65 176.16L90.13 176.16Z" fill="#111"/>
<path d="M96.12 179.36L97.88 176.16L94.36 176.16Z" fill="#111"/>
<path d="M101.76 179.36L103.52 176.16L100 176.16Z" fill="#111"/>
<path d="M107.4 179.36L109.16 176.16L105.64 176.16Z" fill="#111"/>
<circle cx="22.8" cy="177.52" r="1.6" fill="#111"/>
<path d="M22.8 177.52 L58.05 177.52 L58.05 183.58 L76.38 183.58 L76.38 189.63 L108.81 189.63 L108.81 189.63" fill="none" stroke="#111" stroke-width="0.9"/>
<circle cx="60.87" cy="183.58" r="1.27" fill="#fff" stroke="#111" stroke-width="0.8"/>
<circle cx="63.69" cy="183.58" r="1.27" fill="#fff" stroke="#111" stroke-width="0.8"/>
<circle cx="66.51" cy="183.58" r="1.27" fill="#fff" stroke="#111" stroke-width="0.8"/>
<circle cx="69.33" cy="183.58" r="1.27" fill="#fff" stroke="#111" stroke-width="0.8"/>
<circle cx="76.38" cy="189.63" r="1.27" fill="#fff" stroke="#111" stroke-width="0.8"/>
<circle cx="79.2" cy="189.63" r="1.27" fill="#fff" stroke="#111" stroke-width="0.8"/>
<circle cx="82.02" cy="189.63" r="1.27" fill="#fff" stroke="#111" stroke-width="0.8"/>
<circle cx="86.25" cy="189.63" r="1.27" fill="#fff" stroke="#111" stroke-width="0.8"/>
<circle cx="91.89" cy="189.63" r="1.27" fill="#fff" stroke="#111" stroke-width="0.8"/>
<circle cx="96.12" cy="189.63" r="1.27" fill="#fff" stroke="#111" stroke-width="0.8"/>
<circle cx="101.76" cy="189.63" r="1.27" fill="#fff" stroke="#111" stroke-width="0.8"/>
<circle cx="107.4" cy="189.63" r="1.27" fill="#fff" stroke="#111" stroke-width="0.8"/>
<path d="M22.8 177.52 L41.13 177.52 L41.13 182.47 L51 182.47 L51 186.88 L58.05 186.88 L58.05 191.29 L62.28 191.29 L62.28 195.14 L66.51 195.14 L66.51 198.45 L76.38 198.45 L76.38 203.96 L79.2 203.96 L79.2 207.81 L83.43 207.81 L83.43 212.22 L89.07 212.22 L89.07 216.63 L90.48 216.63 L90.48 220.48 L93.3 220.48 L93.3 224.34 L108.81 224.34 L108.81 224.34" fill="none" stroke="#111" stroke-width="0.9"/>
<path d="M41.83 180.75L43.48 183.75L40.18 183.75Z" fill="#111"/>
<path d="M51.7 185.16L53.35 188.16L50.05 188.16Z" fill="#111"/>
<path d="M58.75 189.56L60.4 192.56L57.1 192.56Z" fill="#111"/>
<path d="M62.98 193.42L64.63 196.42L61.33 196.42Z" fill="#111"/>
<path d="M67.21 196.72L68.86 199.72L65.56 199.72Z" fill="#111"/>
<path d="M77.08 202.23L78.73 205.23L75.43 205.23Z" fill="#111"/>
<path d="M79.9 206.09L81.55 209.09L78.25 209.09Z" fill="#111"/>
<path d="M84.13 210.49L85.78 213.49L82.48 213.49Z" fill="#111"/>
<path d="M89.77 214.9L91.42 217.9L88.12 217.9Z" fill="#111"/>
<path d="M91.18 218.76L92.83 221.76L89.53 221.76Z" fill="#111"/>
<path d="M94 222.61L95.65 225.61L92.35 225.61Z" fill="#111"/>
<path d="M96.82 222.61L98.47 225.61L95.17 225.61Z" fill="#111"/>
<path d="M101.05 222.61L102.7 225.61L99.4 225.61Z" fill="#111"/>
<path d="M105.28 222.61L106.93 225.61L103.63 225.61Z" fill="#111"/>
<path d="M108.1 222.61L109.75 225.61L106.45 225.61Z" fill="#111"/>
<line x1="146.2" y1="166.5" x2="146.2" y2="235.3" stroke="#111" stroke-width="1.3"/>
<line x1="145.7" y1="233.3" x2="244.9" y2="233.3" stroke="#111" stroke-width="1.3"/>
<line x1="143.8" y1="233.3" x2="146.2" y2="233.3" stroke="#111" stroke-width="1.05"/>
<text x="143.5" y="235.1" font-size="5.2" font-weight="bold" text-anchor="end">0</text>
<line x1="143.8" y1="216.73" x2="146.2" y2="216.73" stroke="#111" stroke-width="1.05"/>
<text x="143.5" y="218.53" font-size="5.2" font-weight="bold" text-anchor="end">2</text>
<line x1="143.8" y1="200.15" x2="146.2" y2="200.15" stroke="#111" stroke-width="1.05"/>
<text x="143.5" y="201.95" font-size="5.2" font-weight="bold" text-anchor="end">4</text>
<line x1="143.8" y1="183.57" x2="146.2" y2="183.57" stroke="#111" stroke-width="1.05"/>
<text x="143.5" y="185.38" font-size="5.2" font-weight="bold" text-anchor="end">6</text>
<line x1="143.8" y1="167" x2="146.2" y2="167" stroke="#111" stroke-width="1.05"/>
<text x="143.5" y="168.8" font-size="5.2" font-weight="bold" text-anchor="end">8</text>
<line x1="146.2" y1="233.3" x2="146.2" y2="235.8" stroke="#111" stroke-width="1.05"/>
<text x="146.2" y="241.9" font-size="5.2" font-weight="bold" text-anchor="middle">0</text>
<line x1="160.3" y1="233.3" x2="160.3" y2="235.8" stroke="#111" stroke-width="1.05"/>
<text x="160.3" y="241.9" font-size="5.2" font-weight="bold" text-anchor="middle">10</text>
<line x1="174.4" y1="233.3" x2="174.4" y2="235.8" stroke="#111" stroke-width="1.05"/>
<text x="174.4" y="241.9" font-size="5.2" font-weight="bold" text-anchor="middle">20</text>
<line x1="188.5" y1="233.3" x2="188.5" y2="235.8" stroke="#111" stroke-width="1.05"/>
<text x="188.5" y="241.9" font-size="5.2" font-weight="bold" text-anchor="middle">30</text>
<line x1="202.6" y1="233.3" x2="202.6" y2="235.8" stroke="#111" stroke-width="1.05"/>
<text x="202.6" y="241.9" font-size="5.2" font-weight="bold" text-anchor="middle">40</text>
<line x1="216.7" y1="233.3" x2="216.7" y2="235.8" stroke="#111" stroke-width="1.05"/>
<text x="216.7" y="241.9" font-size="5.2" font-weight="bold" text-anchor="middle">50</text>
<line x1="230.8" y1="233.3" x2="230.8" y2="235.8" stroke="#111" stroke-width="1.05"/>
<text x="230.8" y="241.9" font-size="5.2" font-weight="bold" text-anchor="middle">60</text>
<line x1="244.9" y1="233.3" x2="244.9" y2="235.8" stroke="#111" stroke-width="1.05"/>
<text x="244.9" y="241.9" font-size="5.2" font-weight="bold" text-anchor="middle">70</text>
<text x="196.5" y="249.6" font-size="6.4" font-weight="bold" text-anchor="middle">Day After Transplantation</text>
<text transform="translate(136.4,199.5) rotate(-90)" font-size="6.6" font-weight="bold" text-anchor="middle">GVHD Score</text>
<path d="M146.2 233.3 L156.07 229.99 L160.3 233.3 L230.8 233.3" fill="none" stroke="#111" stroke-width="0.9"/>
<path d="M160.3 234.64L162.06 231.44L158.54 231.44Z" fill="#111"/>
<path d="M165.94 234.64L167.7 231.44L164.18 231.44Z" fill="#111"/>
<path d="M170.17 234.64L171.93 231.44L168.41 231.44Z" fill="#111"/>
<path d="M175.81 234.64L177.57 231.44L174.05 231.44Z" fill="#111"/>
<path d="M180.04 234.64L181.8 231.44L178.28 231.44Z" fill="#111"/>
<path d="M182.86 234.64L184.62 231.44L181.1 231.44Z" fill="#111"/>
<path d="M185.68 234.64L187.44 231.44L183.92 231.44Z" fill="#111"/>
<path d="M189.91 234.64L191.67 231.44L188.15 231.44Z" fill="#111"/>
<path d="M195.55 234.64L197.31 231.44L193.79 231.44Z" fill="#111"/>
<path d="M199.78 234.64L201.54 231.44L198.02 231.44Z" fill="#111"/>
<path d="M205.42 234.64L207.18 231.44L203.66 231.44Z" fill="#111"/>
<path d="M209.65 234.64L211.41 231.44L207.89 231.44Z" fill="#111"/>
<path d="M215.29 234.64L217.05 231.44L213.53 231.44Z" fill="#111"/>
<path d="M219.52 234.64L221.28 231.44L217.76 231.44Z" fill="#111"/>
<path d="M225.16 234.64L226.92 231.44L223.4 231.44Z" fill="#111"/>
<path d="M230.8 234.64L232.56 231.44L229.04 231.44Z" fill="#111"/>
<circle cx="146.2" cy="233.3" r="2.2" fill="#111"/>
<path d="M156.07 226.67V232.47M154.47 226.67H157.67M154.47 232.47H157.67" stroke="#111" stroke-width="0.7" fill="none"/>
<path d="M146.2 233.3 L156.07 210.09 L160.3 205.12 L165.94 208.44 L170.17 208.44 L175.81 202.64 L180.04 201.81 L185.68 202.64 L189.91 203.47 L195.55 197.66 L199.78 194.35 L205.42 192.69 L209.65 191.03 L215.29 191.03 L219.52 191.03 L225.16 191.86 L230.8 191.86" fill="none" stroke="#111" stroke-width="0.9"/>
<path d="M156.07 208.44V211.75M154.47 208.44H157.67M154.47 211.75H157.67" stroke="#111" stroke-width="0.7" fill="none"/>
<path d="M156.07 208.37L157.72 211.37L154.42 211.37Z" fill="#111"/>
<path d="M160.3 200.98V209.27M158.7 200.98H161.9M158.7 209.27H161.9" stroke="#111" stroke-width="0.7" fill="none"/>
<path d="M160.3 203.4L161.95 206.4L158.65 206.4Z" fill="#111"/>
<path d="M165.94 204.29V212.58M164.34 204.29H167.54M164.34 212.58H167.54" stroke="#111" stroke-width="0.7" fill="none"/>
<path d="M165.94 206.71L167.59 209.71L164.29 209.71Z" fill="#111"/>
<path d="M170.17 204.29V212.58M168.57 204.29H171.77M168.57 212.58H171.77" stroke="#111" stroke-width="0.7" fill="none"/>
<path d="M170.17 206.71L171.82 209.71L168.52 209.71Z" fill="#111"/>
<path d="M175.81 198.49V206.78M174.21 198.49H177.41M174.21 206.78H177.41" stroke="#111" stroke-width="0.7" fill="none"/>
<path d="M175.81 200.91L177.46 203.91L174.16 203.91Z" fill="#111"/>
<path d="M180.04 197.66V205.95M178.44 197.66H181.64M178.44 205.95H181.64" stroke="#111" stroke-width="0.7" fill="none"/>
<path d="M180.04 200.08L181.69 203.08L178.39 203.08Z" fill="#111"/>
<path d="M185.68 198.49V206.78M184.08 198.49H187.28M184.08 206.78H187.28" stroke="#111" stroke-width="0.7" fill="none"/>
<path d="M185.68 200.91L187.33 203.91L184.03 203.91Z" fill="#111"/>
<path d="M189.91 199.32V207.61M188.31 199.32H191.51M188.31 207.61H191.51" stroke="#111" stroke-width="0.7" fill="none"/>
<path d="M189.91 201.74L191.56 204.74L188.26 204.74Z" fill="#111"/>
<path d="M195.55 193.52V201.81M193.95 193.52H197.15M193.95 201.81H197.15" stroke="#111" stroke-width="0.7" fill="none"/>
<path d="M195.55 195.94L197.2 198.94L193.9 198.94Z" fill="#111"/>
<path d="M199.78 190.21V198.49M198.18 190.21H201.38M198.18 198.49H201.38" stroke="#111" stroke-width="0.7" fill="none"/>
<path d="M199.78 192.62L201.43 195.62L198.13 195.62Z" fill="#111"/>
<path d="M205.42 188.55V196.84M203.82 188.55H207.02M203.82 196.84H207.02" stroke="#111" stroke-width="0.7" fill="none"/>
<path d="M205.42 190.97L207.07 193.97L203.77 193.97Z" fill="#111"/>
<path d="M209.65 186.89V195.18M208.05 186.89H211.25M208.05 195.18H211.25" stroke="#111" stroke-width="0.7" fill="none"/>
<path d="M209.65 189.31L211.3 192.31L208 192.31Z" fill="#111"/>
<path d="M215.29 186.89V195.18M213.69 186.89H216.89M213.69 195.18H216.89" stroke="#111" stroke-width="0.7" fill="none"/>
<path d="M215.29 189.31L216.94 192.31L213.64 192.31Z" fill="#111"/>
<path d="M219.52 186.89V195.18M217.92 186.89H221.12M217.92 195.18H221.12" stroke="#111" stroke-width="0.7" fill="none"/>
<path d="M219.52 189.31L221.17 192.31L217.87 192.31Z" fill="#111"/>
<path d="M225.16 187.72V196.01M223.56 187.72H226.76M223.56 196.01H226.76" stroke="#111" stroke-width="0.7" fill="none"/>
<path d="M225.16 190.14L226.81 193.14L223.51 193.14Z" fill="#111"/>
<path d="M230.8 187.72V196.01M229.2 187.72H232.4M229.2 196.01H232.4" stroke="#111" stroke-width="0.7" fill="none"/>
<path d="M230.8 190.14L232.45 193.14L229.15 193.14Z" fill="#111"/>
<path d="M146.2 233.3 L156.07 210.09 L160.3 205.12 L165.94 209.27 L170.17 211.75 L175.81 213.41 L180.04 218.38 L185.68 219.21 L189.91 211.75 L195.55 215.07 L199.78 216.73 L205.42 217.55 L209.65 218.38 L215.29 218.38 L219.52 218.38 L225.16 218.38 L230.8 218.38" fill="none" stroke="#111" stroke-width="0.9"/>
<path d="M156.07 207.61V212.58M154.47 207.61H157.67M154.47 212.58H157.67" stroke="#111" stroke-width="0.7" fill="none"/>
<circle cx="156.07" cy="210.09" r="1.27" fill="#fff" stroke="#111" stroke-width="0.8"/>
<path d="M160.3 202.64V207.61M158.7 202.64H161.9M158.7 207.61H161.9" stroke="#111" stroke-width="0.7" fill="none"/>
<circle cx="160.3" cy="205.12" r="1.27" fill="#fff" stroke="#111" stroke-width="0.8"/>
<path d="M165.94 206.78V211.75M164.34 206.78H167.54M164.34 211.75H167.54" stroke="#111" stroke-width="0.7" fill="none"/>
<circle cx="165.94" cy="209.27" r="1.27" fill="#fff" stroke="#111" stroke-width="0.8"/>
<path d="M170.17 207.19V216.31M168.57 207.19H171.77M168.57 216.31H171.77" stroke="#111" stroke-width="0.7" fill="none"/>
<circle cx="170.17" cy="211.75" r="1.27" fill="#fff" stroke="#111" stroke-width="0.8"/>
<path d="M175.81 208.85V217.97M174.21 208.85H177.41M174.21 217.97H177.41" stroke="#111" stroke-width="0.7" fill="none"/>
<circle cx="175.81" cy="213.41" r="1.27" fill="#fff" stroke="#111" stroke-width="0.8"/>
<path d="M180.04 213.82V222.94M178.44 213.82H181.64M178.44 222.94H181.64" stroke="#111" stroke-width="0.7" fill="none"/>
<circle cx="180.04" cy="218.38" r="1.27" fill="#fff" stroke="#111" stroke-width="0.8"/>
<path d="M185.68 214.65V223.77M184.08 214.65H187.28M184.08 223.77H187.28" stroke="#111" stroke-width="0.7" fill="none"/>
<circle cx="185.68" cy="219.21" r="1.27" fill="#fff" stroke="#111" stroke-width="0.8"/>
<path d="M189.91 207.19V216.31M188.31 207.19H191.51M188.31 216.31H191.51" stroke="#111" stroke-width="0.7" fill="none"/>
<circle cx="189.91" cy="211.75" r="1.27" fill="#fff" stroke="#111" stroke-width="0.8"/>
<path d="M195.55 208.02V222.11M193.95 208.02H197.15M193.95 222.11H197.15" stroke="#111" stroke-width="0.7" fill="none"/>
<circle cx="195.55" cy="215.07" r="1.27" fill="#fff" stroke="#111" stroke-width="0.8"/>
<path d="M199.78 209.68V223.77M198.18 209.68H201.38M198.18 223.77H201.38" stroke="#111" stroke-width="0.7" fill="none"/>
<circle cx="199.78" cy="216.73" r="1.27" fill="#fff" stroke="#111" stroke-width="0.8"/>
<path d="M205.42 210.51V224.6M203.82 210.51H207.02M203.82 224.6H207.02" stroke="#111" stroke-width="0.7" fill="none"/>
<circle cx="205.42" cy="217.55" r="1.27" fill="#fff" stroke="#111" stroke-width="0.8"/>
<path d="M209.65 211.34V225.43M208.05 211.34H211.25M208.05 225.43H211.25" stroke="#111" stroke-width="0.7" fill="none"/>
<circle cx="209.65" cy="218.38" r="1.27" fill="#fff" stroke="#111" stroke-width="0.8"/>
<path d="M215.29 211.34V225.43M213.69 211.34H216.89M213.69 225.43H216.89" stroke="#111" stroke-width="0.7" fill="none"/>
<circle cx="215.29" cy="218.38" r="1.27" fill="#fff" stroke="#111" stroke-width="0.8"/>
<path d="M219.52 211.34V225.43M217.92 211.34H221.12M217.92 225.43H221.12" stroke="#111" stroke-width="0.7" fill="none"/>
<circle cx="219.52" cy="218.38" r="1.27" fill="#fff" stroke="#111" stroke-width="0.8"/>
<path d="M225.16 211.34V225.43M223.56 211.34H226.76M223.56 225.43H226.76" stroke="#111" stroke-width="0.7" fill="none"/>
<circle cx="225.16" cy="218.38" r="1.27" fill="#fff" stroke="#111" stroke-width="0.8"/>
<path d="M230.8 211.34V225.43M229.2 211.34H232.4M229.2 225.43H232.4" stroke="#111" stroke-width="0.7" fill="none"/>
<circle cx="230.8" cy="218.38" r="1.27" fill="#fff" stroke="#111" stroke-width="0.8"/>
<text x="182.15" y="198.08" font-size="5.6" font-weight="bold" text-anchor="middle">* * *</text>
<text x="195.55" y="192.28" font-size="5.6" font-weight="bold" text-anchor="middle">* *</text>
<defs><linearGradient id="h1bg" x1="0" y1="0" x2="0" y2="1"><stop offset="0" stop-color="#d0d6df"/><stop offset="0.45" stop-color="#d9dde4"/><stop offset="1" stop-color="#e2e4ea"/></linearGradient><linearGradient id="h2bg" x1="0" y1="0" x2="0" y2="1"><stop offset="0" stop-color="#e9eaee"/><stop offset="1" stop-color="#e2e3e7"/></linearGradient><pattern id="streak" width="4" height="2.2" patternUnits="userSpaceOnUse"><rect width="4" height="1" fill="#000" opacity="0.035"/></pattern><radialGradient id="g1lg" cx="0.5" cy="0.45" r="0.6"><stop offset="0" stop-color="#5e4549"/><stop offset="1" stop-color="#4a3337"/></radialGradient><radialGradient id="belly" cx="0.5" cy="0.5" r="0.5"><stop offset="0" stop-color="#b08e9c"/><stop offset="0.6" stop-color="#9a7886"/><stop offset="1" stop-color="#8a6876" stop-opacity="0"/></radialGradient></defs>
<rect x="286" y="164" width="111.5" height="75.5" fill="#fcfcfc"/>
<rect x="334" y="170" width="10" height="69" fill="#e4e6ea" filter="url(#b2)"/>
<defs><linearGradient id="g1strip" x1="0" y1="0" x2="1" y2="0"><stop offset="0" stop-color="#f6f6f7"/><stop offset="1" stop-color="#e2e2e5"/></linearGradient><linearGradient id="g1stripv" x1="0" y1="0" x2="0" y2="1"><stop offset="0" stop-color="#fff" stop-opacity="1"/><stop offset="1" stop-color="#fff" stop-opacity="0"/></linearGradient></defs>
<rect x="380" y="176" width="17.5" height="63.5" fill="url(#g1strip)"/>
<rect x="380" y="176" width="17.5" height="30" fill="url(#g1stripv)"/>
<path d="M318 174 C321.02 173.22 326.97 173.08 330.6 173.3 C334.23 173.52 338.08 174.02 339.8 175.3 C341.52 176.58 341.48 178.53 340.9 181 C340.32 183.47 337.45 186.68 336.3 190.1 C335.15 193.52 334.57 196.93 334 201.5 C333.43 206.07 333.85 213.5 332.9 217.5 C331.95 221.5 330.2 223.67 328.3 225.5 C326.4 227.33 323.77 228 321.5 228.5 C319.23 229 316.95 228.75 314.7 228.5 C312.45 228.25 310.28 227.42 308 227 C305.72 226.58 303.12 227.08 301 226 C298.88 224.92 297.23 223.33 295.3 220.5 C293.37 217.67 289.78 211.67 289.4 209 C289.02 206.33 291.23 206.83 293 204.5 C294.77 202.17 297.67 198.25 300 195 C302.33 191.75 304.92 187.83 307 185 C309.08 182.17 310.67 179.83 312.5 178 C314.33 176.17 314.98 174.78 318 174Z" fill="#4c3737" filter="url(#b05)"/>
<ellipse cx="331" cy="180" rx="8" ry="4" fill="#8a6a5e" opacity="0.75" filter="url(#b1)"/>
<ellipse cx="320" cy="196" rx="9" ry="7" fill="#5e4646" opacity="0.7" filter="url(#b2)"/>
<ellipse cx="314.5" cy="204" rx="2.5" ry="2.5" fill="#9a8a8a" opacity="0.8" filter="url(#b05)"/>
<ellipse cx="300" cy="212" rx="6" ry="6" fill="#4a3a3a" opacity="0.6" filter="url(#b1)"/>
<ellipse cx="324" cy="218" rx="6" ry="6" fill="#4a3a3a" opacity="0.5" filter="url(#b1)"/>
<path d="M307.5 222 L306.5 240" stroke="#a88e74" stroke-width="2" filter="url(#b05)"/>
<path d="M353.1 172.1 C354.92 169.88 356.57 169.38 359.2 168.5 C361.83 167.62 366.08 167 368.9 166.8 C371.72 166.6 374.48 166.42 376.1 167.3 C377.72 168.18 377.78 169.88 378.6 172.1 C379.42 174.32 380.8 178.18 381 180.6 C381.2 183.02 380.62 183.98 379.8 186.6 C378.98 189.22 376.3 192.67 376.1 196.3 C375.9 199.93 377.98 203.97 378.6 208.4 C379.22 212.83 379.4 218.47 379.8 222.9 C380.2 227.33 379.8 232.38 381 235 C382.2 237.62 388.62 237.8 387 238.6 C385.38 239.4 378.75 239.6 371.3 239.8 C363.85 240 347.75 241.82 342.3 239.8 C336.85 237.78 339.42 231.73 338.6 227.7 C337.78 223.67 337.2 219.62 337.4 215.6 C337.6 211.58 338.58 207.62 339.8 203.6 C341.02 199.58 343.28 195.13 344.7 191.5 C346.12 187.87 346.9 185.03 348.3 181.8 C349.7 178.57 351.28 174.32 353.1 172.1Z" fill="#574044" filter="url(#b05)"/>
<ellipse cx="358" cy="222" rx="16" ry="13" fill="#765a62" opacity="0.85" filter="url(#b2)"/>
<ellipse cx="357" cy="201" rx="15" ry="12" fill="#967a86" filter="url(#b2)"/>
<ellipse cx="356" cy="198" rx="10" ry="7.5" fill="#ad8f9b" filter="url(#b2)"/>
<ellipse cx="364" cy="178" rx="11" ry="8" fill="#4e373a" opacity="0.8" filter="url(#b1)"/>
<ellipse cx="365" cy="181" rx="5" ry="4.5" fill="#7e5e5c" opacity="0.8" filter="url(#b1)"/>
<ellipse cx="374" cy="170.5" rx="4" ry="3.8" fill="#93706a" opacity="0.85" filter="url(#b1)"/>
<ellipse cx="378.5" cy="183" rx="2" ry="3.5" fill="#c8a0a0" opacity="0.9" filter="url(#b05)"/>
<ellipse cx="341.5" cy="212" rx="3" ry="12" fill="#46323a" opacity="0.6" filter="url(#b1)"/>
<ellipse cx="352" cy="228" rx="3" ry="3" fill="#4a343a" opacity="0.6" filter="url(#b1)"/>
<path d="M449.8 157.7 Q447.8 165 447.3 174.5" stroke="#5e4c4a" stroke-width="1.5" fill="none" filter="url(#b05)"/>
<path d="M441 174.5 C443.67 173.08 445.67 173.42 448 173.5 C450.33 173.58 452.75 174 455 175 C457.25 176 459.83 177.75 461.5 179.5 C463.17 181.25 464.58 183.08 465 185.5 C465.42 187.92 464.58 191.08 464 194 C463.42 196.92 462.58 200 461.5 203 C460.42 206 459.08 209 457.5 212 C455.92 215 453.67 218.25 452 221 C450.33 223.75 448.75 226.92 447.5 228.5 C446.25 230.08 445.75 230.58 444.5 230.5 C443.25 230.42 441.33 229.42 440 228 C438.67 226.58 438 224.25 436.5 222 C435 219.75 432.33 217.33 431 214.5 C429.67 211.67 428.75 208.75 428.5 205 C428.25 201.25 428.92 195.83 429.5 192 C430.08 188.17 430.08 184.92 432 182 C433.92 179.08 438.33 175.92 441 174.5Z" fill="#3a2828" filter="url(#b05)"/>
<ellipse cx="447" cy="186" rx="11" ry="7" fill="#443030" opacity="0.9" filter="url(#b1)"/>
<path d="M436 197 Q447 189 460 196" stroke="#2a1c1c" stroke-width="1.5" fill="none" opacity="0.7" filter="url(#b05)"/>
<ellipse cx="453.8" cy="207" rx="4.6" ry="4.2" fill="#9a7a6e" filter="url(#b05)"/>
<path d="M431.5 213 L427.5 219.5" stroke="#7a5a4c" stroke-width="1.8" filter="url(#b05)"/>
<path d="M430 186 L428 189" stroke="#7a5a4c" stroke-width="1.4" filter="url(#b05)"/>
<path d="M472.8 157.7 Q478.5 159 479.5 163.5 L480.3 172" stroke="#5e4c4a" stroke-width="1.5" fill="none" filter="url(#b05)"/>
<path d="M470 176 C471.5 173.67 473.83 172.67 476 172 C478.17 171.33 480.67 171.58 483 172 C485.33 172.42 487.92 173.17 490 174.5 C492.08 175.83 494.17 177.42 495.5 180 C496.83 182.58 497.33 186.5 498 190 C498.67 193.5 499 197.5 499.5 201 C500 204.5 501 207.5 501 211 C501 214.5 500.25 218.67 499.5 222 C498.75 225.33 498.08 228.75 496.5 231 C494.92 233.25 492.08 235.17 490 235.5 C487.92 235.83 486 234.25 484 233 C482 231.75 479.67 230.17 478 228 C476.33 225.83 475.33 223 474 220 C472.67 217 471.08 213.67 470 210 C468.92 206.33 468 202 467.5 198 C467 194 466.58 189.67 467 186 C467.42 182.33 468.5 178.33 470 176Z" fill="#4a3434" filter="url(#b05)"/>
<ellipse cx="484.5" cy="213.5" rx="9" ry="7.5" fill="#cf9e9a" filter="url(#b1)"/>
<ellipse cx="475.5" cy="189" rx="5" ry="6.5" fill="#bc9494" filter="url(#b1)"/>
<ellipse cx="491" cy="194" rx="5.5" ry="6" fill="#c09896" filter="url(#b1)"/>
<ellipse cx="485" cy="196" rx="2.5" ry="9" fill="#3e2a2a" opacity="0.7" filter="url(#b1)"/>
<ellipse cx="482" cy="179" rx="7" ry="4" fill="#6a5454" opacity="0.8" filter="url(#b1)"/>
<ellipse cx="490" cy="228" rx="6" ry="4" fill="#3e2a2a" opacity="0.6" filter="url(#b1)"/>
<rect x="146.9" y="269.3" width="109.6" height="82" fill="url(#h1bg)"/>
<rect x="146.9" y="300" width="109.6" height="51" fill="url(#streak)"/>
<path d="M147.5 305.5 C148.63 304.4 151.97 304.07 154.4 302.4 C156.83 300.73 159.4 297.07 162.1 295.5 C164.8 293.93 167.75 293.72 170.6 293 C173.45 292.28 176.07 292.2 179.2 291.2 C182.33 290.2 186.55 287.98 189.4 287 C192.25 286.02 193.7 285.53 196.3 285.3 C198.9 285.07 202.67 285.18 205 285.6 C207.33 286.02 208.28 286.87 210.3 287.8 C212.32 288.73 214.98 290.25 217.1 291.2 C219.22 292.15 220.85 293.12 223 293.5 C225.15 293.88 227.5 293.33 230 293.5 C232.5 293.67 235.67 293.92 238 294.5 C240.33 295.08 242.17 295.83 244 297 C245.83 298.17 247.75 299.75 249 301.5 C250.25 303.25 251.33 305.58 251.5 307.5 C251.67 309.42 251.08 311.5 250 313 C248.92 314.5 247 315.67 245 316.5 C243 317.33 240.33 317.42 238 318 C235.67 318.58 233.07 319.58 231 320 C228.93 320.42 227.93 320.08 225.6 320.5 C223.27 320.92 220.43 322.25 217 322.5 C213.57 322.75 208.45 321.65 205 322 C201.55 322.35 200.03 323.88 196.3 324.6 C192.57 325.32 186.88 326.3 182.6 326.3 C178.32 326.3 174.03 325.75 170.6 324.6 C167.17 323.45 164.27 321.33 162 319.4 C159.73 317.47 158.12 314.77 157 313 C155.88 311.23 156.87 309.47 155.3 308.8 C153.73 308.13 148.9 309.55 147.6 309 C146.3 308.45 146.37 306.6 147.5 305.5Z" fill="#a69a9a" filter="url(#b05)"/>
<ellipse cx="196" cy="299" rx="26" ry="10" fill="#bcafac" opacity="0.9" filter="url(#b2)"/>
<ellipse cx="195" cy="317" rx="27" ry="6" fill="#7c7276" opacity="0.7" filter="url(#b2)"/>
<ellipse cx="172.5" cy="310.5" rx="5" ry="4" fill="#5e5458" opacity="0.8" filter="url(#b1)"/>
<path d="M153.5 303 Q158 294 172 292.5 Q174 300 170 306 Q163 311 157 309 Z" fill="#2e2a2c" filter="url(#b1)"/>
<path d="M148 307 L156 307.8" stroke="#8e8276" stroke-width="3.6" stroke-linecap="round" filter="url(#b05)"/>
<path d="M158.7 313 L152.8 325.5" stroke="#86664e" stroke-width="4.4" stroke-linecap="round" filter="url(#b05)"/>
<path d="M241 296.5 Q249.5 301 250 310.5" stroke="#302c30" stroke-width="5.5" fill="none" stroke-linecap="round" filter="url(#b1)"/>
<ellipse cx="237" cy="307" rx="8" ry="8" fill="#7c6e6c" opacity="0.85" filter="url(#b1)"/>
<ellipse cx="229.8" cy="288" rx="6.5" ry="6.8" transform="rotate(-20 229.8 288)" fill="#a08e7e" filter="url(#b05)"/>
<ellipse cx="230.5" cy="289.5" rx="3.2" ry="4" transform="rotate(-20 230.5 289.5)" fill="#7a6a5e" filter="url(#b05)"/>
<ellipse cx="228.3" cy="320.3" rx="2.8" ry="2.4" fill="#7a6050" filter="url(#b05)"/>
<rect x="270.6" y="269.3" width="109.6" height="82" fill="url(#h2bg)"/>
<rect x="270.6" y="280" width="109.6" height="71" fill="url(#streak)"/>
<path d="M328.5 282.6 C329.75 282.43 330.62 282.43 331.7 283.7 C332.78 284.97 334.28 287.68 335 290.2 C335.72 292.72 335.28 295.92 336 298.8 C336.72 301.68 338.2 304.6 339.3 307.5 C340.4 310.4 341.7 312.95 342.6 316.2 C343.5 319.45 344.53 323.03 344.7 327 C344.87 330.97 343.55 336.5 343.6 340 C343.65 343.5 345.93 346.33 345 348 C344.07 349.67 340.75 349.72 338 350 C335.25 350.28 331.88 350.28 328.5 349.7 C325.12 349.12 321.28 346.95 317.7 346.5 C314.12 346.05 309 348.45 307 347 C305 345.55 306.08 341.13 305.7 337.8 C305.32 334.47 304.33 330.25 304.7 327 C305.07 323.75 306.82 321.55 307.9 318.3 C308.98 315.05 310.12 310.75 311.2 307.5 C312.28 304.25 312.97 301.68 314.4 298.8 C315.83 295.92 318.17 292.55 319.8 290.2 C321.43 287.85 322.75 285.97 324.2 284.7 C325.65 283.43 327.25 282.77 328.5 282.6Z" fill="none" stroke="#7a6c66" stroke-width="2.6" filter="url(#b1)"/>
<path d="M328.5 282.6 C329.75 282.43 330.62 282.43 331.7 283.7 C332.78 284.97 334.28 287.68 335 290.2 C335.72 292.72 335.28 295.92 336 298.8 C336.72 301.68 338.2 304.6 339.3 307.5 C340.4 310.4 341.7 312.95 342.6 316.2 C343.5 319.45 344.53 323.03 344.7 327 C344.87 330.97 343.55 336.5 343.6 340 C343.65 343.5 345.93 346.33 345 348 C344.07 349.67 340.75 349.72 338 350 C335.25 350.28 331.88 350.28 328.5 349.7 C325.12 349.12 321.28 346.95 317.7 346.5 C314.12 346.05 309 348.45 307 347 C305 345.55 306.08 341.13 305.7 337.8 C305.32 334.47 304.33 330.25 304.7 327 C305.07 323.75 306.82 321.55 307.9 318.3 C308.98 315.05 310.12 310.75 311.2 307.5 C312.28 304.25 312.97 301.68 314.4 298.8 C315.83 295.92 318.17 292.55 319.8 290.2 C321.43 287.85 322.75 285.97 324.2 284.7 C325.65 283.43 327.25 282.77 328.5 282.6Z" fill="#8c7c78" filter="url(#b05)"/>
<ellipse cx="325.5" cy="323" rx="15" ry="21" fill="#b8a6a6" filter="url(#b2)"/>
<ellipse cx="327" cy="301" rx="7" ry="8" fill="#ab9996" opacity="0.8" filter="url(#b1)"/>
<ellipse cx="328.5" cy="289" rx="3.2" ry="4.5" fill="#b29a90" filter="url(#b1)"/>
<ellipse cx="313" cy="305" rx="2.5" ry="8" fill="#5e524e" opacity="0.6" filter="url(#b1)"/>
<ellipse cx="339.5" cy="318" rx="2" ry="5" fill="#5e524e" opacity="0.5" filter="url(#b1)"/>
<ellipse cx="341" cy="297.5" rx="2" ry="5" fill="#c4aca6" filter="url(#b05)"/>
<path d="M307 345.5 L313 346" stroke="#6e6058" stroke-width="3" stroke-linecap="round" filter="url(#b05)"/>
<path d="M341 346 L345 347" stroke="#6e6058" stroke-width="3" stroke-linecap="round" filter="url(#b05)"/>
</svg></body></html>
